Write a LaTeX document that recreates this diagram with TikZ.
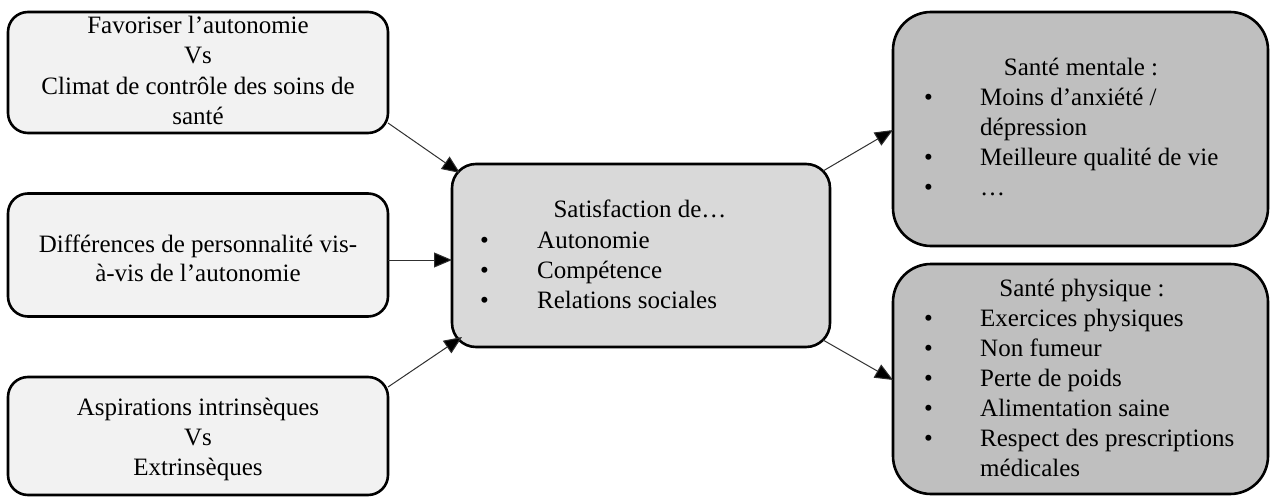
\documentclass[tikz,border=0pt]{standalone}
\usepackage{fontspec}
\setmainfont{Liberation Serif}
\usetikzlibrary{arrows.meta,calc}
\definecolor{lfill}{HTML}{F2F2F2}
\definecolor{cfill}{HTML}{D9D9D9}
\definecolor{rfill}{HTML}{BFBFBF}
\definecolor{arrcol}{HTML}{303030}
\begin{document}
\begin{tikzpicture}[x=1pt,y=-1pt,
  box/.style={draw=black, line width=2.6pt, outer sep=0pt, inner sep=0pt},
  lbox/.style={box, fill=lfill, rounded corners=20pt, minimum width=380pt},
  cbox/.style={box, fill=cfill, rounded corners=24pt},
  rbox/.style={box, fill=rfill, rounded corners=38pt, minimum width=375pt},
  txt/.style={font=\fontsize{25}{30}\selectfont, inner sep=0pt, anchor=base},
  ltxt/.style={txt, anchor=base west},
  arr/.style={draw=arrcol, line width=1pt, -{Triangle[length=18pt,width=15pt,fill=black]}}
]
\useasboundingbox (0,0) rectangle (1271,497);
% boxes
\node[lbox, minimum height=121pt] (b1) at (198,72.5) {};
\node[lbox, minimum height=123pt] (b2) at (198,255) {};
\node[lbox, minimum height=118pt] (b3) at (198,436) {};
\node[cbox, minimum width=378pt, minimum height=183pt] (c) at (641,255.5) {};
\node[rbox, minimum height=234pt] (r1) at (1080.5,129) {};
\node[rbox, minimum height=230pt] (r2) at (1080.5,379) {};
% left texts
\node[txt] (b1l1) at (198,34) {Favoriser l’autonomie};
\node[txt] (b1l2) at (198,64) {Vs};
\node[txt] (b1l3) at (198,95) {Climat de contrôle des soins de};
\node[txt] (b1l4) at (198,125) {santé};
\node[txt] (b2l1) at (198,252) {Différences de personnalité vis-};
\node[txt] (b2l2) at (198,281) {à-vis de l’autonomie};
\node[txt] (b3l1) at (198,415) {Aspirations intrinsèques};
\node[txt] (b3l2) at (198,445) {Vs};
\node[txt] (b3l3) at (198,475) {Extrinsèques};
% center texts
\node[txt] (ct) at (640,218) {Satisfaction de…};
\node[ltxt] (cb1) at (480,248) {•};
\node[ltxt] (cb2) at (480,278) {•};
\node[ltxt] (cb3) at (480,308) {•};
\node[ltxt] (cl1) at (537,248) {Autonomie};
\node[ltxt] (cl2) at (537,278) {Compétence};
\node[ltxt] (cl3) at (537,308) {Relations sociales};
% right top texts
\node[txt] (r1t) at (1081,76) {Santé mentale :};
\node[ltxt] (r1b1) at (924,106) {•};
\node[ltxt] (r1b2) at (924,166) {•};
\node[ltxt] (r1b3) at (924,196) {•};
\node[ltxt] (r1l1) at (980,106) {Moins d’anxiété /};
\node[ltxt] (r1l2) at (980,136) {dépression};
\node[ltxt] (r1l3) at (980,166) {Meilleure qualité de vie};
\node[ltxt] (r1l4) at (980,196) {…};
% right bottom texts
\node[txt] (r2t) at (1082,296) {Santé physique :};
\node[ltxt] (r2b1) at (924,326) {•};
\node[ltxt] (r2b2) at (924,356) {•};
\node[ltxt] (r2b3) at (924,386) {•};
\node[ltxt] (r2b4) at (924,416) {•};
\node[ltxt] (r2b5) at (924,446) {•};
\node[ltxt] (r2l1) at (980,326) {Exercices physiques};
\node[ltxt] (r2l2) at (980,356) {Non fumeur};
\node[ltxt] (r2l3) at (980,386) {Perte de poids};
\node[ltxt] (r2l4) at (980,416) {Alimentation saine};
\node[ltxt] (r2l5) at (980,446) {Respect des prescriptions};
\node[ltxt] (r2l6) at (980,476) {médicales};
% arrows
\draw[arr] ($(b1.south east)+(0,-10)$) -- ($(c.north west)+(8,9)$);
\draw[arr] ($(b2.east)+(0,5)$) -- ($(c.west)+(0,4.5)$);
\draw[arr] ($(b3.north east)+(0,10)$) -- ($(c.south west)+(10,-10)$);
\draw[arr] ($(c.north east)+(-7,7)$) -- ($(r1.west)+(0,1)$);
\draw[arr] ($(c.south east)+(-7,-7)$) -- ($(r2.west)+(0,1)$);
\end{tikzpicture}
\end{document}
